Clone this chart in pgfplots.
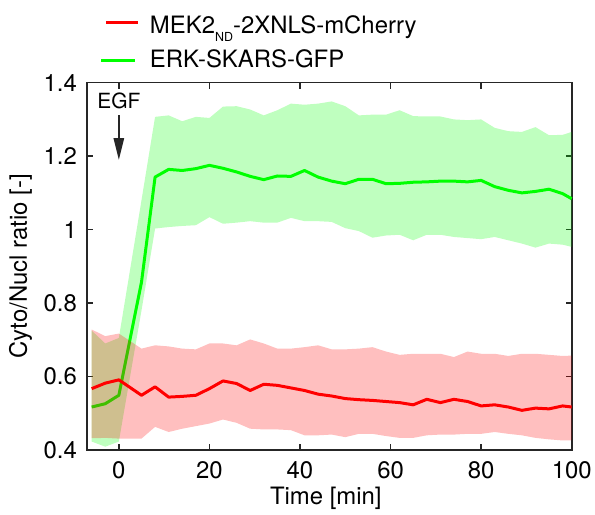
\documentclass[border=0pt]{standalone}
\usepackage{fontspec}
\setmainfont{TeX Gyre Heros}
\usepackage{pgfplots}
\usepackage{pgfplotstable}
\pgfplotsset{compat=1.18}
\usepgfplotslibrary{fillbetween}
\usetikzlibrary{arrows.meta}
\definecolor{axisgray}{rgb}{0.15,0.15,0.15}
\definecolor{mred}{rgb}{1,0,0}
\definecolor{mgreen}{rgb}{0,1,0}

% t, green mean/upper/lower, red mean/upper/lower
\pgfplotstableread{
t    gm     gu     gl     rm     ru     rl
-6   0.517  0.725  0.423  0.567  0.728  0.432
-3   0.526  0.690  0.409  0.582  0.710  0.433
0    0.549  0.705  0.423  0.591  0.717  0.431
5    0.857  1.080  0.780  0.549  0.676  0.431
8    1.143  1.307  1.003  0.572  0.685  0.463
11   1.164  1.311  1.007  0.544  0.682  0.449
14   1.161  1.295  1.010  0.546  0.676  0.458
17   1.166  1.307  1.012  0.549  0.674  0.465
20   1.175  1.304  1.034  0.567  0.690  0.472
23   1.167  1.335  1.016  0.588  0.690  0.483
26   1.157  1.336  1.019  0.581  0.685  0.474
29   1.145  1.327  1.023  0.562  0.701  0.458
32   1.136  1.311  1.019  0.579  0.690  0.456
35   1.146  1.325  1.019  0.576  0.676  0.456
38   1.145  1.343  1.032  0.569  0.676  0.454
41   1.161  1.340  1.023  0.562  0.680  0.440
44   1.143  1.343  1.023  0.552  0.685  0.440
47   1.132  1.349  1.021  0.547  0.674  0.442
50   1.125  1.336  1.004  0.540  0.674  0.435
53   1.137  1.311  0.996  0.537  0.676  0.444
56   1.137  1.313  0.978  0.535  0.680  0.444
59   1.125  1.313  0.984  0.532  0.668  0.438
62   1.126  1.325  0.986  0.529  0.659  0.433
65   1.129  1.309  0.971  0.523  0.662  0.433
68   1.130  1.308  0.986  0.538  0.662  0.440
71   1.132  1.308  0.986  0.529  0.662  0.442
74   1.132  1.300  0.980  0.538  0.653  0.442
77   1.130  1.298  0.977  0.532  0.668  0.444
80   1.134  1.300  0.974  0.520  0.662  0.444
83   1.117  1.277  0.980  0.523  0.662  0.449
86   1.107  1.268  0.971  0.517  0.656  0.444
89   1.100  1.266  0.962  0.508  0.662  0.440
92   1.104  1.279  0.951  0.514  0.662  0.433
95   1.110  1.257  0.962  0.512  0.659  0.429
98   1.098  1.258  0.959  0.520  0.656  0.426
100  1.084  1.266  0.953  0.517  0.657  0.426
}\datatab

\begin{document}
\begin{tikzpicture}
\begin{axis}[
  at={(0,0)}, anchor=south west,
  scale only axis, width=485bp, height=367.3bp,
  xmin=-7.1, xmax=100, ymin=0.4, ymax=1.4,
  xtick={0,20,40,60,80,100},
  ytick={0.4,0.6,0.8,1,1.2,1.4},
  tick align=inside, major tick length=6bp,
  axis line style={line width=1.6bp, color=axisgray},
  every tick/.style={line width=1.6bp, color=axisgray},
  /pgf/number format/assume math mode=true,
  /pgf/number format/fixed,
  tick label style={font=\fontsize{24}{28}\selectfont, text=black, inner sep=0pt},
  xticklabel style={anchor=base, yshift=-28.3bp},
  yticklabel style={anchor=east, xshift=-9.7bp},
  label style={font=\fontsize{24}{28}\selectfont, text=black, inner sep=0pt},
  xlabel={Time [min]},
  ylabel={Cyto/Nucl ratio [-]},
  xlabel style={at={(axis description cs:0.493,0)}, anchor=base, yshift=-54bp},
  ylabel style={at={(axis description cs:-0.1365,0.5)}, anchor=center},
  legend cell align=left,
  reverse legend,
  legend style={draw=none, fill=none, inner sep=0pt, outer sep=0pt,
    at={(axis description cs:0.0274,1.1808)}, anchor=north west,
    font=\fontsize{24}{28}\selectfont,
    nodes={inner sep=0pt, text height=17bp, text depth=6bp},
    row sep=11.4bp, column sep=10bp},
]
% green band + line
\addplot[name path=gu, draw=none, forget plot] table[x=t, y=gu] {\datatab};
\addplot[name path=gl, draw=none, forget plot] table[x=t, y=gl] {\datatab};
\addplot[fill=mgreen, fill opacity=0.25, draw=none, forget plot] fill between[of=gu and gl];
\addplot[mgreen, line width=3bp, line join=round, on layer=pre main,
  legend image code/.code={\draw[mgreen, line width=3bp] (-5bp,1.2bp) -- (29bp,1.2bp);}]
  table[x=t, y=gm] {\datatab};
% red band + line
\addplot[name path=ru, draw=none, forget plot] table[x=t, y=ru] {\datatab};
\addplot[name path=rl, draw=none, forget plot] table[x=t, y=rl] {\datatab};
\addplot[fill=mred, fill opacity=0.25, draw=none, forget plot] fill between[of=ru and rl];
\addplot[mred, line width=3bp, line join=round,
  legend image code/.code={\draw[mred, line width=3bp] (0bp,4.8bp) -- (32bp,4.8bp);}]
  table[x=t, y=rm] {\datatab};
\legend{ERK-SKARS-GFP, MEK2\raisebox{-8.4bp}{\fontsize{12.5}{14}\selectfont ND}-2XNLS-mCherry}
% EGF annotation
\node[font=\fontsize{21}{24}\selectfont, anchor=base, inner sep=0pt, text=black] at (axis cs:0,1.329) {EGF};
\draw[axisgray, line width=2.6bp, -{Triangle[length=22bp,width=10bp]}] (axis cs:0,1.311) -- (axis cs:0,1.189);
\end{axis}
\pgfresetboundingbox
\path[use as bounding box] (-86.7bp,-65bp) rectangle (508.3bp,450bp);
\end{tikzpicture}
\end{document}
